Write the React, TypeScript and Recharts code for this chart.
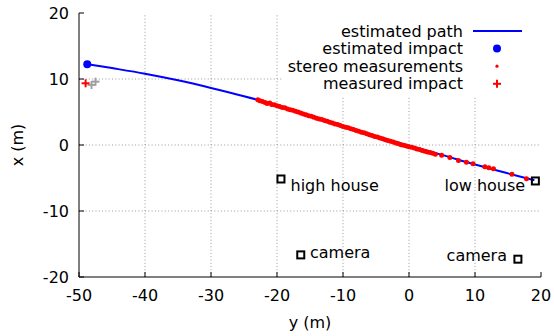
import { ScatterChart, Scatter, XAxis, YAxis, ReferenceLine, Legend } from 'recharts';

// horizontal axis = y (m), vertical axis = x (m)
const xTicks = [-50, -40, -30, -20, -10, 0, 10, 20];
const yTicks = [-20, -10, 0, 10, 20];

const pathY = [-48.7, -45, -40, -35, -30, -25, -20, -15, -10, -5, 0, 5, 10, 15, 19];
const pathX = [12.25, 11.65, 10.8, 9.8, 8.65, 7.4, 6.0, 4.4, 2.85, 1.35, -0.1, -1.5, -2.95, -4.3, -5.35];

const stereoY = [
  -22.9, -22.6, -22.2, -21.8, -21.5, -21.1, -20.8, -20.4, -20.0, -19.6, -19.2, -18.8, -18.4, -18.0,
  -17.6, -17.2, -16.8, -16.4, -16.0, -15.6, -15.2, -14.8, -14.4, -14.0, -13.6, -13.2, -12.8, -12.4,
  -12.0, -11.6, -11.2, -10.8, -10.4, -10.0, -9.6, -9.2, -8.8, -8.4, -8.0, -7.6, -7.2, -6.8, -6.4,
  -6.0, -5.6, -5.2, -4.8, -4.4, -4.0, -3.6, -3.2, -2.8, -2.4, -2.0, -1.6, -1.2, -0.8, -0.4, 0.0,
  0.4, 0.8, 1.2, 1.6, 2.0, 2.4, 2.8, 3.2, 3.6, 4.0, 4.95, 6.2, 7.5, 8.7, 9.7, 11.5, 12.1, 12.8,
  15.6, 17.8,
];
const stereoX = [
  6.85, 6.7, 6.6, 6.45, 6.3, 6.35, 6.15, 6.1, 5.95, 5.85, 5.7, 5.65, 5.45, 5.35,
  5.25, 5.1, 5.0, 4.85, 4.7, 4.6, 4.45, 4.35, 4.2, 4.05, 3.95, 3.85, 3.7, 3.6,
  3.45, 3.35, 3.2, 3.1, 2.95, 2.8, 2.7, 2.6, 2.45, 2.35, 2.2, 2.1, 1.95, 1.85, 1.7,
  1.55, 1.45, 1.3, 1.2, 1.05, 0.95, 0.8, 0.7, 0.55, 0.45, 0.3, 0.2, 0.05, -0.05, -0.15, -0.25,
  -0.35, -0.45, -0.6, -0.7, -0.85, -0.95, -1.05, -1.15, -1.25, -1.4, -1.55, -1.9, -2.35, -2.6, -2.85, -3.3, -3.45, -3.6,
  -4.45, -5.1,
];

const impactEst = { ym: -48.75, xm: 12.25 };
const impactMeas = { ym: -49.0, xm: 9.35 };
const otherY = [-48.1, -47.5];
const otherX = [9.1, 9.6];

const siteNames = ['high house', 'camera', 'low house', 'camera'];
const siteY = [-19.4, -16.4, 19.15, 16.5];
const siteX = [-5.15, -16.65, -5.45, -17.3];
const labelY = [-17.95, -15.0, 17.6, 14.85];
const labelX = [-6.05, -16.2, -6.05, -16.8];
const labelAnchor = ['start', 'start', 'end', 'end'];

const pathData = pathY.map((v, i) => ({ ym: v, xm: pathX[i] }));
const stereoData = stereoY.map((v, i) => ({ ym: v, xm: stereoX[i] }));
const otherData = otherY.map((v, i) => ({ ym: v, xm: otherX[i] }));
const siteData = siteY.map((v, i) => ({ ym: v, xm: siteX[i] }));
const labelData = labelY.map((v, i) => ({ ym: v, xm: labelX[i], name: siteNames[i], anchor: labelAnchor[i] }));

const FONT = 'DejaVu Sans';
const TICK = 5;
const GRID = '#9a9a9a';

const BottomTick = (p: any) => (
  <g>
    <line x1={p.x} y1={p.y - 18} x2={p.x} y2={p.y - 18 - TICK} stroke="#000" />
    <text x={p.x} y={p.y} dy="0.35em" textAnchor="middle" fontSize={16} fill="#000" fontFamily={FONT}>
      {p.payload.value}
    </text>
  </g>
);
const LeftTick = (p: any) => (
  <g>
    <line x1={p.x + 10} y1={p.y} x2={p.x + 10 + TICK} y2={p.y} stroke="#000" />
    <text x={p.x} y={p.y} dy="0.35em" textAnchor="end" fontSize={16} fill="#000" fontFamily={FONT}>
      {p.payload.value}
    </text>
  </g>
);
const TopTick = (p: any) => <line x1={p.x} y1={p.y} x2={p.x} y2={p.y + TICK} stroke="#000" />;
const RightTick = (p: any) => <line x1={p.x - TICK} y1={p.y} x2={p.x} y2={p.y} stroke="#000" />;

const Cross = ({ cx, cy, color }: any) => (
  <g stroke={color} strokeWidth={2}>
    <line x1={cx - 4} y1={cy} x2={cx + 4} y2={cy} />
    <line x1={cx} y1={cy - 4} x2={cx} y2={cy + 4} />
  </g>
);

const legendRows = ['estimated path', 'estimated impact', 'stereo measurements', 'measured impact'];

const LegendBox = () => (
  <div style={{ background: '#fff', width: 259, height: 82 }}>
    <svg width={259} height={82} style={{ display: 'block' }}>
      {legendRows.map((t, i) => (
        <text key={t} x={181} y={17 + i * 17.6} dy="0.35em" textAnchor="end" fontSize={16} fill="#000" fontFamily={FONT}>
          {t}
        </text>
      ))}
      <line x1={191} y1={17} x2={240} y2={17} stroke="#0000ff" strokeWidth={2} />
      <circle cx={215} cy={17 + 17.6} r={4} fill="#0000ff" />
      <circle cx={215} cy={17 + 2 * 17.6} r={1.6} fill="#ff0000" />
      <Cross cx={215} cy={17 + 3 * 17.6} color="#ff0000" />
    </svg>
  </div>
);

export default function App() {
  return (
    <div style={{ position: 'absolute', left: 0, top: 0, background: '#fff' }}>
      <ScatterChart width={554} height={336} margin={{ top: 13, right: 13, left: 0, bottom: 0 }}>
        <XAxis
          type="number"
          dataKey="ym"
          domain={[-50, 20]}
          ticks={xTicks}
          height={59}
          tickSize={0}
          tickMargin={18}
          tick={<BottomTick />}
          axisLine={{ stroke: '#000' }}
          tickLine={false}
          label={{
            content: () => (
              <text x={310} y={322} dy="0.35em" textAnchor="middle" fontSize={16} fill="#000" fontFamily={FONT}>
                y (m)
              </text>
            ),
          }}
        />
        <XAxis
          xAxisId="top"
          orientation="top"
          type="number"
          dataKey="ym"
          domain={[-50, 20]}
          ticks={xTicks}
          height={0}
          tickSize={0}
          tickMargin={0}
          tick={<TopTick />}
          axisLine={{ stroke: '#000' }}
          tickLine={false}
        />
        <YAxis
          type="number"
          dataKey="xm"
          domain={[-20, 20]}
          ticks={yTicks}
          width={79}
          tickSize={0}
          tickMargin={10}
          tick={<LeftTick />}
          axisLine={{ stroke: '#000' }}
          tickLine={false}
          label={{
            content: () => (
              <text x={17} y={145} dy="0.35em" textAnchor="middle" fontSize={16} fill="#000" fontFamily={FONT} transform="rotate(-90,17,145)">
                x (m)
              </text>
            ),
          }}
        />
        <YAxis
          yAxisId="right"
          orientation="right"
          type="number"
          dataKey="xm"
          domain={[-20, 20]}
          ticks={yTicks}
          width={0}
          tickSize={0}
          tickMargin={0}
          tick={<RightTick />}
          axisLine={{ stroke: '#000' }}
          tickLine={false}
        />
        {xTicks.slice(1, -1).map((t) => (
          <ReferenceLine key={`gx${t}`} x={t} stroke={GRID} strokeDasharray="1 2.3" />
        ))}
        {yTicks.slice(1, -1).map((t) => (
          <ReferenceLine key={`gy${t}`} y={t} stroke={GRID} strokeDasharray="1 2.3" />
        ))}
        <Legend
          layout="vertical"
          align="center"
          verticalAlign="middle"
          content={<LegendBox />}
          wrapperStyle={{ left: 282, top: 14, width: 259, height: 82 }}
        />
        <Scatter
          data={pathData}
          line={{ stroke: '#0000ff', strokeWidth: 2 }}
          lineJointType="monotoneX"
          shape={() => null}
          isAnimationActive={false}
        />
        <Scatter
          data={stereoData}
          shape={(p: any) => <circle cx={p.cx} cy={p.cy} r={2.5} fill="#ff0000" />}
          isAnimationActive={false}
        />
        <Scatter
          data={siteData}
          shape={(p: any) => (
            <rect x={p.cx - 3.5} y={p.cy - 3.5} width={7} height={7} fill="none" stroke="#000" strokeWidth={2} />
          )}
          isAnimationActive={false}
        />
        <Scatter
          data={labelData}
          shape={(p: any) => (
            <text x={p.cx} y={p.cy} dy="0.35em" textAnchor={p.payload.anchor} fontSize={16} fill="#000" fontFamily={FONT}>
              {p.payload.name}
            </text>
          )}
          isAnimationActive={false}
        />
        <Scatter
          data={otherData}
          shape={(p: any) => <Cross cx={p.cx} cy={p.cy} color="#a0a0a0" />}
          isAnimationActive={false}
        />
        <Scatter
          data={[impactMeas]}
          shape={(p: any) => <Cross cx={p.cx} cy={p.cy} color="#ff0000" />}
          isAnimationActive={false}
        />
        <Scatter
          data={[impactEst]}
          shape={(p: any) => <circle cx={p.cx} cy={p.cy} r={4} fill="#0000ff" />}
          isAnimationActive={false}
        />
      </ScatterChart>
    </div>
  );
}
